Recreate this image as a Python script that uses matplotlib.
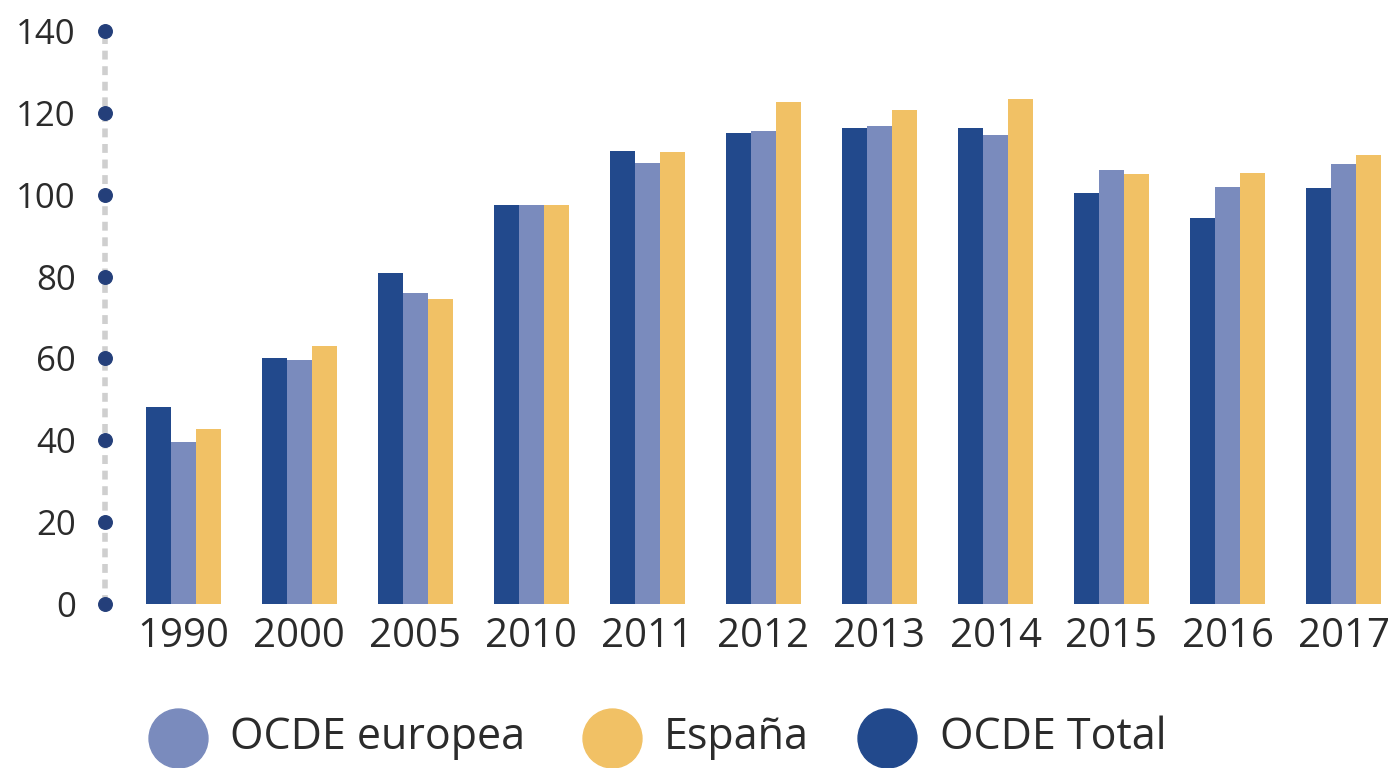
import matplotlib.pyplot as plt
import numpy as np

years = ["1990", "2000", "2005", "2010", "2011", "2012", "2013", "2014", "2015", "2016", "2017"]
ocde_total = [48.1, 60.2, 80.8, 97.4, 110.8, 115.0, 116.2, 116.2, 100.5, 94.3, 101.7]
ocde_europea = [39.5, 59.7, 75.9, 97.4, 107.8, 115.5, 116.7, 114.7, 106.1, 101.9, 107.6]
espana = [42.7, 63.1, 74.4, 97.4, 110.5, 122.6, 120.6, 123.4, 105.1, 105.4, 109.8]
yticks = [0, 20, 40, 60, 80, 100, 120, 140]

legend_labels = ["OCDE europea", "España", "OCDE Total"]
c_total = "#22498c"
c_eur = "#7a8bbd"
c_esp = "#f1c165"
legend_colors = [c_eur, c_esp, c_total]

plt.rcParams['font.family'] = ['Open Sans', 'DejaVu Sans']
txt = "#2b2b2b"

fig = plt.figure(figsize=(13.9, 7.68), dpi=100)
ax = fig.add_axes([105 / 1390, 1 - 604 / 768, 1 - 105 / 1390, (604 - 31) / 768])

x = np.arange(len(years))
w = 0.215
ax.bar(x - w, ocde_total, w, color=c_total)
ax.bar(x, ocde_europea, w, color=c_eur)
ax.bar(x + w, espana, w, color=c_esp)

ax.set_xlim(-0.675, 10.4)
ax.set_ylim(0, 140)
for s in ax.spines.values():
    s.set_visible(False)

# dotted axis line with round markers at each tick
ax.plot([-0.675, -0.675], [0, 140], color="#cfcfcf", lw=4, ls=(0, (1.6, 1.2)),
        clip_on=False, zorder=1)
ax.scatter([-0.675] * len(yticks), yticks, s=95, color="#243f7a", clip_on=False, zorder=3)

ax.set_yticks(yticks)
ax.set_yticklabels([str(v) for v in yticks], fontsize=25, color=txt)
ax.tick_params(axis="y", length=0, pad=21)
ax.set_xticks(x)
ax.set_xticklabels(years, fontsize=29, color=txt)
ax.tick_params(axis="x", length=0, pad=9)

# legend
lax = fig.add_axes([0, 0, 1, 0.09])
lax.set_xlim(0, 1390)
lax.set_ylim(0, 69)
lax.axis("off")
circle_x = [178, 612, 887]
text_x = [230, 664, 940]
for cx, tx, lab, col in zip(circle_x, text_x, legend_labels, legend_colors):
    lax.scatter([cx], [30], s=1800, color=col, clip_on=False)
    lax.text(tx, 30, lab, fontsize=31, color=txt, va="center", ha="left")

fig.savefig("out.png", dpi=100)
